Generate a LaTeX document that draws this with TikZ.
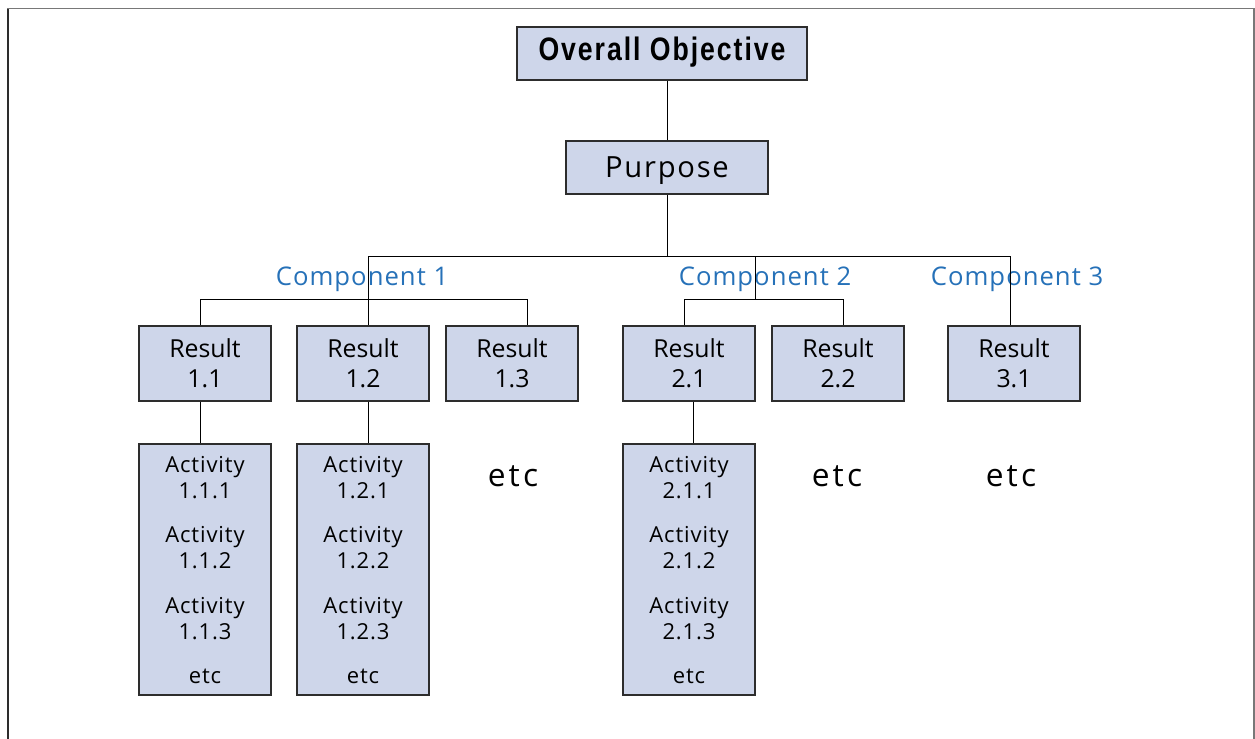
\documentclass[tikz,border=0pt]{standalone}
\usepackage{fontspec}
\setmainfont{Open Sans}
\newfontfamily\headfont[FakeStretch=0.82,LetterSpace=6]{Liberation Sans}
\newfontfamily\etcfont[LetterSpace=10]{Open Sans}
\newfontfamily\lsfont[LetterSpace=4]{Open Sans}
\newfontfamily\purfont[LetterSpace=6]{Open Sans}
\definecolor{boxfill}{RGB}{206,214,234}
\definecolor{comp}{RGB}{38,113,184}
\definecolor{edge}{RGB}{45,45,45}
\definecolor{frame}{RGB}{120,120,120}
\begin{document}
\begin{tikzpicture}[x=0.6pt,y=-0.6pt,
  box/.style={draw=edge, fill=boxfill, line width=0.7pt, inner sep=0pt},
  resbox/.style={box, minimum width=79.2pt, minimum height=45pt, align=center,
    font=\fontsize{14.9}{18}\selectfont},
  actbox/.style={box, minimum width=79.2pt, minimum height=150.6pt},
  acttext/.style={align=center, inner sep=0pt, font=\lsfont\fontsize{13.2}{15.6}\selectfont},
  comptext/.style={text=comp, inner sep=0pt, font=\lsfont\fontsize{15.4}{19}\selectfont},
  etctext/.style={inner sep=0pt, font=\etcfont\fontsize{19}{22}\selectfont},
  conn/.style={draw=black, line width=0.6pt}]
\useasboundingbox (0,0) rectangle (1255,738);
% frame
\draw[frame, line width=0.9pt] (8,740) -- (8,8.5) -- (1254,8.5) -- (1254,740);
\draw[edge, line width=0.9pt] (8,740) -- (8,9);

% top boxes
\node[box, minimum width=174pt, minimum height=31.8pt] (obj) at (662,53.5) {};
\node[inner sep=0pt, anchor=base, font=\headfont\bfseries\fontsize{19.5}{22}\selectfont]
  (objt) at (662,60) {Overall Objective};
\node[box, minimum width=121.2pt, minimum height=31.8pt] (pur) at (667,167.5) {};
\node[inner sep=0pt, font=\purfont\fontsize{17.5}{21}\selectfont, anchor=base]
  (purt) at (667,177.5) {Purpose};

% results
\node[resbox] (r11) at (205,363.5) {Result\\1.1};
\node[resbox] (r12) at (363,363.5) {Result\\1.2};
\node[resbox] (r13) at (512,363.5) {Result\\1.3};
\node[resbox] (r21) at (689,363.5) {Result\\2.1};
\node[resbox] (r22) at (838,363.5) {Result\\2.2};
\node[resbox] (r31) at (1014,363.5) {Result\\3.1};

% activity boxes
\node[actbox] (a11) at (205,569.5) {};
\node[actbox] (a12) at (363,569.5) {};
\node[actbox] (a21) at (689,569.5) {};

\foreach \b/\x in {1.1/205, 1.2/363, 2.1/689} {
  \node[acttext] (t\b a) at (\x,478) {Activity\\\b.1};
  \node[acttext] (t\b b) at (\x,548) {Activity\\\b.2};
  \node[acttext] (t\b c) at (\x,618.5) {Activity\\\b.3};
  \node[acttext] (t\b d) at (\x,676) {etc};
}

% component labels
\node[comptext, anchor=base] (c1) at (362,285) {Component 1};
\node[comptext, anchor=base] (c2) at (765,285) {Component 2};
\node[comptext, anchor=base] (c3) at (1017,285) {Component 3};

% etc labels
\node[etctext, anchor=base] (e1) at (513,486) {etc};
\node[etctext, anchor=base] (e2) at (837,486) {etc};
\node[etctext, anchor=base] (e3) at (1011,486) {etc};

% connectors
\coordinate (bus) at (667,256);
\coordinate (bL) at (368,256);
\coordinate (bR) at (1010,256);
\coordinate (b2) at (755,256);
\coordinate (c1L) at (200,299);
\coordinate (c1R) at (527,299);
\coordinate (c2m) at (755,299);
\coordinate (c2L) at (684,299);
\coordinate (c2R) at (843,299);

\draw[conn] (pur.north) -- (pur.north |- obj.south);
\draw[conn] (pur.south) -- (bus);
\draw[conn] (bL) -- (bR);
\draw[conn] (bL) -- (bL |- r12.north);
\draw[conn] (bR) -- (bR |- r31.north);
\draw[conn] (b2) -- (c2m);
\draw[conn] (c1L |- r11.north) -- (c1L) -- (c1R) -- (c1R |- r13.north);
\draw[conn] (c2L |- r21.north) -- (c2L) -- (c2R) -- (c2R |- r22.north);
\draw[conn] (c1L |- r11.south) -- (c1L |- a11.north);
\draw[conn] (bL |- r12.south) -- (bL |- a12.north);
\draw[conn] (693,0 |- r21.south) -- (693,0 |- a21.north);
\end{tikzpicture}
\end{document}
